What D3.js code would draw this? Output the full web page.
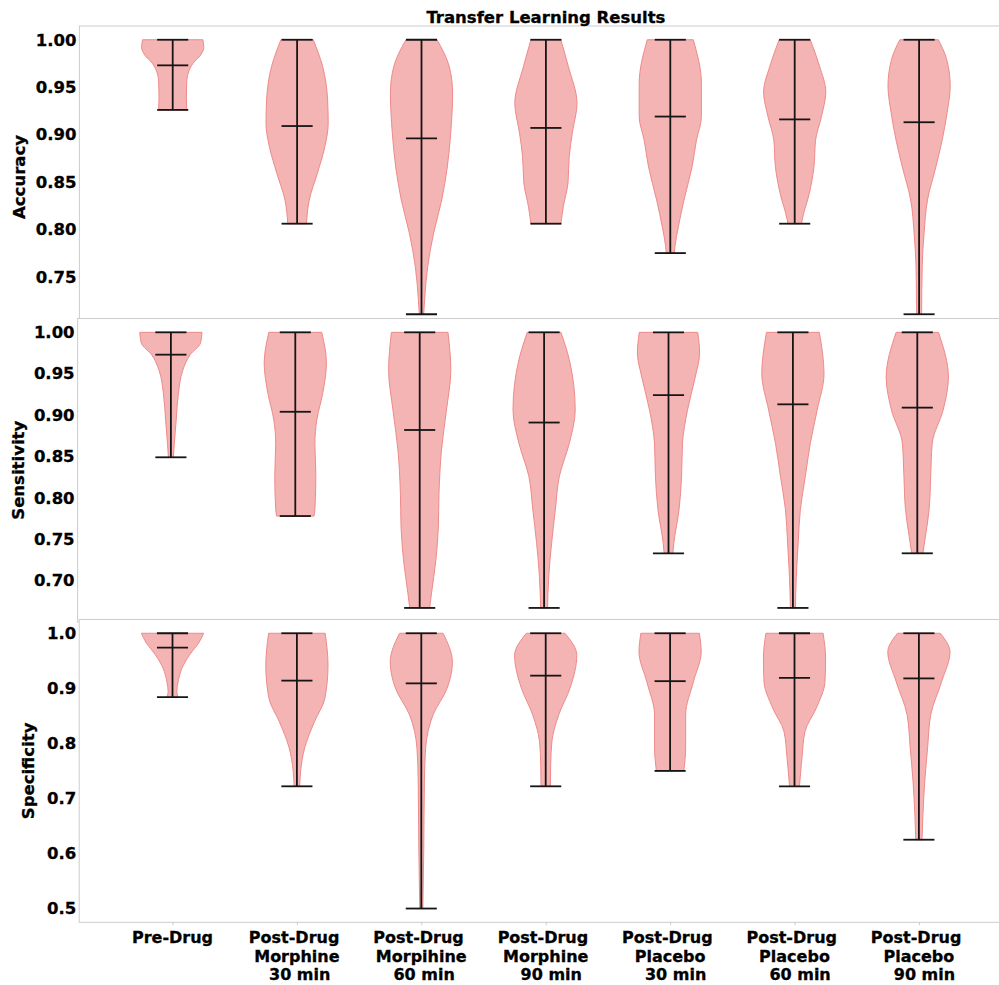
<!DOCTYPE html>
<html>
<head>
<meta charset="utf-8">
<title>Transfer Learning Results</title>
<style>
  body { margin: 0; background: #fff; }
  svg { display: block; font-family: "DejaVu Sans", sans-serif; font-weight: bold; }
  svg text { stroke: #000; stroke-width: 0.3px; }
  .spine { stroke: #cccccc; stroke-width: 1; fill: none; }
  .violin { fill: #f4b4b4; stroke: #ee8a8a; stroke-width: 1; }
  .bar { stroke: #151515; stroke-width: 1.8; }
</style>
</head>
<body>
<svg width="999" height="985"></svg>
<script src="https://cdn.jsdelivr.net/npm/d3@7"></script>
<script>

// categories (x tick labels, spaces kept as in the original labels)
var categories = [
  ["Pre-Drug"],
  ["Post-Drug ", "Morphine", " 30 min"],
  ["Post-Drug ", "Morpihine", " 60 min"],
  ["Post-Drug ", "Morphine", "  90 min"],
  ["Post-Drug ", "Placebo", "  30 min"],
  ["Post-Drug ", "Placebo", "  60 min"],
  ["Post-Drug ", "Placebo", "  90 min"]
];

// accuracy
var accuracyMin  = [0.926, 0.806, 0.7105, 0.806, 0.775, 0.806, 0.7105];
var accuracyMean = [0.973, 0.909, 0.896, 0.907, 0.919, 0.916, 0.913];
var accuracyMax  = [1, 1, 1, 1, 1, 1, 1];
var accuracyTicks = [0.75, 0.80, 0.85, 0.90, 0.95, 1.00];
// density outline: [value, relative half width]
var accuracyShape = [
  [[1.0,0.97],[0.992,1.0],[0.984,0.9],[0.975,0.65],[0.965,0.5],[0.955,0.45],[0.94,0.44],[0.926,0.45]],
  [[1.0,0.52],[0.972,0.82],[0.937,0.98],[0.912,1.0],[0.887,0.89],[0.859,0.65],[0.831,0.39],[0.806,0.3]],
  [[1.0,0.5],[0.972,0.89],[0.944,1.0],[0.902,0.94],[0.866,0.83],[0.831,0.65],[0.796,0.39],[0.761,0.2],[0.726,0.1],[0.7105,0.07]],
  [[1.0,0.48],[0.972,0.72],[0.933,1.0],[0.902,0.85],[0.877,0.75],[0.849,0.71],[0.824,0.56],[0.806,0.48]],
  [[1.0,0.74],[0.954,1.0],[0.919,1.0],[0.894,0.84],[0.866,0.7],[0.831,0.44],[0.803,0.26],[0.782,0.15],[0.775,0.13]],
  [[1.0,0.5],[0.972,0.8],[0.945,1.0],[0.919,0.86],[0.894,0.67],[0.866,0.62],[0.838,0.47],[0.81,0.24],[0.806,0.22]],
  [[1.0,0.62],[0.979,0.89],[0.951,1.0],[0.923,0.9],[0.894,0.74],[0.866,0.54],[0.831,0.27],[0.796,0.16],[0.761,0.1],[0.7105,0.08]]
];

// sensitivity
var sensitivityMin  = [0.849, 0.778, 0.667, 0.667, 0.733, 0.667, 0.733];
var sensitivityMean = [0.973, 0.904, 0.882, 0.891, 0.924, 0.913, 0.909];
var sensitivityMax  = [1, 1, 1, 1, 1, 1, 1];
var sensitivityTicks = [0.70, 0.75, 0.80, 0.85, 0.90, 0.95, 1.00];
var sensitivityShape = [
  [[1.0,1.0],[0.987,0.95],[0.973,0.62],[0.954,0.38],[0.926,0.24],[0.894,0.17],[0.866,0.11],[0.849,0.08]],
  [[1.0,0.85],[0.963,1.0],[0.926,0.88],[0.894,0.69],[0.866,0.63],[0.826,0.66],[0.786,0.63],[0.778,0.6]],
  [[1.0,0.91],[0.954,1.0],[0.906,0.86],[0.858,0.7],[0.805,0.62],[0.765,0.6],[0.725,0.52],[0.685,0.38],[0.667,0.32]],
  [[1.0,0.54],[0.967,0.81],[0.906,1.0],[0.866,0.81],[0.826,0.49],[0.785,0.36],[0.745,0.24],[0.705,0.15],[0.667,0.11]],
  [[1.0,0.94],[0.975,1.0],[0.946,0.86],[0.906,0.61],[0.866,0.45],[0.826,0.42],[0.786,0.34],[0.745,0.17],[0.733,0.14]],
  [[1.0,0.85],[0.95,1.0],[0.906,0.78],[0.866,0.56],[0.826,0.4],[0.786,0.24],[0.745,0.17],[0.705,0.11],[0.667,0.08]],
  [[1.0,0.68],[0.946,1.0],[0.906,0.83],[0.866,0.48],[0.826,0.43],[0.786,0.38],[0.753,0.26],[0.733,0.18]]
];

// specificity
var specificityMin  = [0.884, 0.722, 0.5, 0.722, 0.75, 0.722, 0.625];
var specificityMean = [0.974, 0.914, 0.909, 0.923, 0.913, 0.919, 0.918];
var specificityMax  = [1, 1, 1, 1, 1, 1, 1];
var specificityTicks = [0.5, 0.6, 0.7, 0.8, 0.9, 1.0];
var specificityShape = [
  [[1.0,1.0],[0.984,0.86],[0.96,0.54],[0.936,0.3],[0.912,0.18],[0.894,0.14],[0.884,0.18]],
  [[1.0,0.91],[0.942,1.0],[0.882,0.9],[0.84,0.57],[0.792,0.25],[0.75,0.12],[0.722,0.09]],
  [[1.0,0.7],[0.948,1.0],[0.9,0.83],[0.852,0.38],[0.792,0.14],[0.732,0.1],[0.612,0.08],[0.5,0.05]],
  [[1.0,0.62],[0.96,1.0],[0.9,0.78],[0.852,0.42],[0.804,0.2],[0.762,0.16],[0.722,0.15]],
  [[1.0,0.94],[0.966,1.0],[0.912,0.75],[0.852,0.5],[0.792,0.5],[0.75,0.44]],
  [[1.0,0.92],[0.954,1.0],[0.912,0.98],[0.864,0.7],[0.822,0.34],[0.774,0.24],[0.722,0.16]],
  [[1.0,0.69],[0.966,1.0],[0.912,0.73],[0.852,0.38],[0.792,0.28],[0.732,0.19],[0.672,0.13],[0.625,0.1]]
];

var panels = [
  {label: "Accuracy", mins: accuracyMin, means: accuracyMean, maxes: accuracyMax, shapes: accuracyShape,
   ticks: accuracyTicks, fmt: ".2f", domain: [0.696, 1.0145], left: 79.4, top: 26, bottom: 328, labelX: 25},
  {label: "Sensitivity", mins: sensitivityMin, means: sensitivityMean, maxes: sensitivityMax, shapes: sensitivityShape,
   ticks: sensitivityTicks, fmt: ".2f", domain: [0.65, 1.0167], left: 77.6, top: 318.5, bottom: 622, labelX: 23.5},
  {label: "Specificity", mins: specificityMin, means: specificityMean, maxes: specificityMax, shapes: specificityShape,
   ticks: specificityTicks, fmt: ".1f", domain: [0.475, 1.025], left: 79.2, top: 619.5, bottom: 922.3, labelX: 33.5}
];

var svg = d3.select("svg");
var step = 124.4;       // px per category
var vWidth = 0.5;       // violin width in category units

panels.forEach(function(p, pi) {
  var x = d3.scaleLinear().domain([0.25, 7.75]).range([p.left, p.left + 7.5 * step]);
  var y = d3.scaleLinear().domain(p.domain).range([p.bottom, p.top]);
  var g = svg.append("g").attr("class", "panel");

  g.append("rect")
    .attr("x", x(0.25)).attr("y", p.top)
    .attr("width", x(7.75) - x(0.25)).attr("height", p.bottom - p.top)
    .attr("fill", "#fff");

  // violins
  p.shapes.forEach(function(shape, i) {
    var pos = i + 1;
    var area = d3.area()
      .y(function(d) { return y(d[0]); })
      .x0(function(d) { return x(pos - vWidth / 2 * d[1]); })
      .x1(function(d) { return x(pos + vWidth / 2 * d[1]); })
      .curve(d3.curveMonotoneY);
    g.append("path").attr("class", "violin").attr("d", area(shape));
  });

  // bars, caps and means
  var cap = vWidth / 4;
  d3.range(p.mins.length).forEach(function(i) {
    var pos = i + 1;
    g.append("line").attr("class", "bar")
      .attr("x1", x(pos)).attr("x2", x(pos))
      .attr("y1", y(p.mins[i])).attr("y2", y(p.maxes[i]));
    [p.mins[i], p.maxes[i], p.means[i]].forEach(function(v) {
      g.append("line").attr("class", "bar")
        .attr("x1", x(pos - cap)).attr("x2", x(pos + cap))
        .attr("y1", y(v)).attr("y2", y(v));
    });
  });

  // spines
  g.append("rect").attr("class", "spine")
    .attr("x", x(0.25)).attr("y", p.top)
    .attr("width", x(7.75) - x(0.25)).attr("height", p.bottom - p.top);

  // y axis
  var ya = g.append("g")
    .attr("transform", "translate(" + x(0.25) + ",0)")
    .call(d3.axisLeft(y).tickValues(p.ticks).tickFormat(d3.format(p.fmt)).tickSize(0).tickPadding(3));
  ya.select(".domain").remove();
  ya.selectAll("text")
    .attr("font-family", "DejaVu Sans")
    .attr("font-weight", "bold")
    .attr("font-size", "16.5px")
    .attr("fill", "#000");

  g.append("text")
    .attr("transform", "translate(" + p.labelX + "," + ((p.top + p.bottom) / 2) + ") rotate(-90)")
    .attr("text-anchor", "middle")
    .attr("font-size", "16.5px")
    .text(p.label);

  if (pi === 0) {
    svg.append("text")
      .attr("x", (x(0.25) + x(7.75)) / 2).attr("y", 22.5)
      .attr("text-anchor", "middle")
      .attr("font-size", "16.5px")
      .text("Transfer Learning Results");
  }

  if (pi === panels.length - 1) {
    var xa = g.append("g")
      .attr("transform", "translate(0," + p.bottom + ")")
      .call(d3.axisBottom(x).tickValues(d3.range(1, 8)).tickSize(3).tickFormat(""));
    xa.select(".domain").remove();
    xa.selectAll("line").attr("stroke", "#cccccc");

    categories.forEach(function(lines, i) {
      var t = g.append("text")
        .attr("text-anchor", "middle")
        .attr("font-size", "16px")
        .style("white-space", "pre");
      lines.forEach(function(s, k) {
        t.append("tspan")
          .attr("x", x(i + 1))
          .attr("y", 943.3 + k * 18.4)
          .text(s);
      });
    });
  }
});
</script>
</body>
</html>
